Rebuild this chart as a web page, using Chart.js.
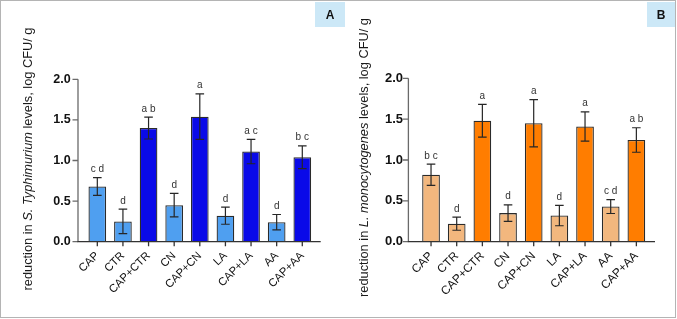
<!DOCTYPE html>
<html>
<head>
<meta charset="utf-8">
<script src="https://cdn.jsdelivr.net/npm/chart.js@4.4.0/dist/chart.umd.min.js"></script>
<style>
  html, body { margin: 0; padding: 0; background: #fff; }
  #fig { position: relative; width: 677px; height: 319px; overflow: hidden; font-family: "Liberation Sans", Arial, sans-serif; }
  #frame { position: absolute; left: 0; top: 0; width: 676px; height: 318px; box-sizing: border-box; border: 1.5px solid #b4b4b4; }
  canvas { position: absolute; top: 0; }
  #chartA { left: 0; }
  #chartB { left: 340px; }
  .tag { position: absolute; top: 1.5px; height: 25px; background: #cce8f7; font: bold 12px "Liberation Sans", Arial, sans-serif; color: #111; text-align: center; line-height: 26px; }
  #tagA { left: 315px; width: 30px; }
  #tagB { left: 647px; width: 28px; }
</style>
</head>
<body>
<div id="fig">
  <canvas id="chartA" width="345" height="319"></canvas>
  <canvas id="chartB" width="337" height="319"></canvas>
  <div id="frame"></div>
  <div class="tag" id="tagA">A</div>
  <div class="tag" id="tagB">B</div>
</div>
<script>
// treatments on the x axis
const categories = ['CAP', 'CTR', 'CAP+CTR', 'CN', 'CAP+CN', 'LA', 'CAP+LA', 'AA', 'CAP+AA'];
// single treatment or combined with CAP
const combined = [false, false, true, false, true, false, true, false, true];

// panel A: S. Typhimurium
const salmonellaMeans = [0.68, 0.25, 1.40, 0.45, 1.54, 0.32, 1.11, 0.24, 1.04];
const salmonellaErrors = [0.11, 0.15, 0.135, 0.145, 0.28, 0.105, 0.15, 0.095, 0.14];
const salmonellaLetters = ['c d', 'd', 'a b', 'd', 'a', 'd', 'a c', 'd', 'b c'];

// panel B: L. monocytogenes
const listeriaMeans = [0.82, 0.22, 1.48, 0.35, 1.45, 0.32, 1.41, 0.43, 1.245];
const listeriaErrors = [0.13, 0.08, 0.20, 0.10, 0.29, 0.125, 0.18, 0.085, 0.15];
const listeriaLetters = ['b c', 'd', 'a', 'd', 'a', 'd', 'a', 'c d', 'a b'];

const yTicks = [0, 0.5, 1.0, 1.5, 2.0];

const titleA = [['reduction in ', false], ['S. Typhimurium', true], [' levels, log CFU/ g', false]];
const titleB = [['reduction in ', false], ['L. monocytogenes', true], [' levels, log CFU/ g', false]];

const FONT = '"Liberation Sans", Arial, sans-serif';

// error bars, letters, axis lines and the y title
const panelPlugin = {
    id: 'panel',
    afterDatasetsDraw(chart, args, o) {
        const ctx = chart.ctx;
        const x = chart.scales.x, y = chart.scales.y;
        const area = chart.chartArea;

        ctx.save();
        ctx.strokeStyle = '#262626';
        ctx.lineWidth = 1.2;
        ctx.fillStyle = '#333';
        ctx.font = '10px ' + FONT;
        ctx.textAlign = 'center';
        ctx.textBaseline = 'alphabetic';
        o.means.forEach((m, i) => {
            const cx = x.getPixelForValue(i);
            const top = y.getPixelForValue(m + o.errors[i]);
            const bot = y.getPixelForValue(m - o.errors[i]);
            ctx.beginPath();
            ctx.moveTo(cx, top); ctx.lineTo(cx, bot);
            ctx.moveTo(cx - 4.3, top); ctx.lineTo(cx + 4.3, top);
            ctx.moveTo(cx - 4.3, bot); ctx.lineTo(cx + 4.3, bot);
            ctx.stroke();
            ctx.fillText(o.letters[i], cx, top - 5.5);
        });

        // axes
        const ax = area.left - o.axisGap;
        const ay = y.getPixelForValue(0);
        ctx.lineWidth = 1.3;
        ctx.strokeStyle = '#6a6a6a';
        ctx.beginPath();
        ctx.moveTo(ax, y.getPixelForValue(2)); ctx.lineTo(ax, ay);
        yTicks.forEach(v => {
            const py = y.getPixelForValue(v);
            ctx.moveTo(ax - 5.5, py); ctx.lineTo(ax, py);
        });
        ctx.stroke();
        ctx.strokeStyle = '#333';
        ctx.beginPath();
        ctx.moveTo(ax - 0.6, ay); ctx.lineTo(area.right + o.axisExt, ay);
        categories.forEach((c, i) => {
            const px = x.getPixelForValue(i);
            ctx.moveTo(px, ay); ctx.lineTo(px, ay + 4.5);
        });
        ctx.stroke();

        // y axis title with italic species name
        ctx.translate(o.titleX, o.titleY);
        ctx.rotate(-Math.PI / 2);
        ctx.fillStyle = '#1a1a1a';
        ctx.textAlign = 'left';
        ctx.textBaseline = 'middle';
        const fontFor = it => (it ? 'italic ' : '') + o.titleSize + 'px ' + FONT;
        let total = 0;
        o.title.forEach(p => { ctx.font = fontFor(p[1]); total += ctx.measureText(p[0]).width; });
        let tx = -total / 2;
        o.title.forEach(p => {
            ctx.font = fontFor(p[1]);
            ctx.fillText(p[0], tx, 0);
            tx += ctx.measureText(p[0]).width;
        });
        ctx.restore();
    }
};

function makeChart(id, means, errors, letters, light, dark, p) {
    const colours = combined.map(c => (c ? dark : light));
    return new Chart(document.getElementById(id), {
        type: 'bar',
        data: {
            labels: categories,
            datasets: [{
                data: means,
                backgroundColor: colours,
                borderColor: '#2b2b2b',
                borderWidth: 1.3,
                categoryPercentage: 1,
                barPercentage: 0.69
            }]
        },
        options: {
            responsive: false,
            animation: false,
            events: [],
            layout: { padding: { left: 0, top: p.top, right: p.right, bottom: 319 - p.bottom - 60 } },
            plugins: {
                legend: { display: false },
                tooltip: { enabled: false },
                panel: {
                    means: means, errors: errors, letters: letters,
                    axisGap: p.axisGap, axisExt: p.axisExt,
                    title: p.title, titleX: p.titleX, titleY: p.titleY, titleSize: 12.8
                }
            },
            scales: {
                x: {
                    grid: { display: false, drawTicks: false },
                    border: { display: false },
                    afterFit: s => { s.height = 60; },
                    ticks: {
                        autoSkip: false,
                        minRotation: 45, maxRotation: 45,
                        padding: 7.5,
                        color: '#111',
                        font: { family: FONT, size: p.xSize }
                    }
                },
                y: {
                    min: 0, max: 2,
                    grid: { display: false, drawTicks: false },
                    border: { display: false },
                    afterFit: s => { s.width = p.left; },
                    afterBuildTicks: s => { s.ticks = yTicks.map(v => ({ value: v })); },
                    ticks: {
                        padding: p.tickPad,
                        color: '#111',
                        font: { family: FONT, size: p.ySize, weight: 'bold' },
                        callback: v => v.toFixed(1)
                    }
                }
            }
        },
        plugins: [panelPlugin]
    });
}

makeChart('chartA', salmonellaMeans, salmonellaErrors, salmonellaLetters, '#4f9ff0', '#0a0ae8', {
    left: 84.5, right: 345 - 315.1, top: 79.3, bottom: 241.7,
    axisGap: 6.5, axisExt: 5.6, tickPad: 13.8,
    title: titleA, titleX: 28, titleY: 159, xSize: 11.3, ySize: 12.5
});
makeChart('chartB', listeriaMeans, listeriaErrors, listeriaLetters, '#f2b77e', '#ff7d00', {
    left: 78.2, right: 337 - 309.2, top: 78.3, bottom: 241.7,
    axisGap: 9.8, axisExt: 5.8, tickPad: 15.2,
    title: titleB, titleX: 24.5, titleY: 157.5, xSize: 11.8, ySize: 13
});
</script>
</body>
</html>
